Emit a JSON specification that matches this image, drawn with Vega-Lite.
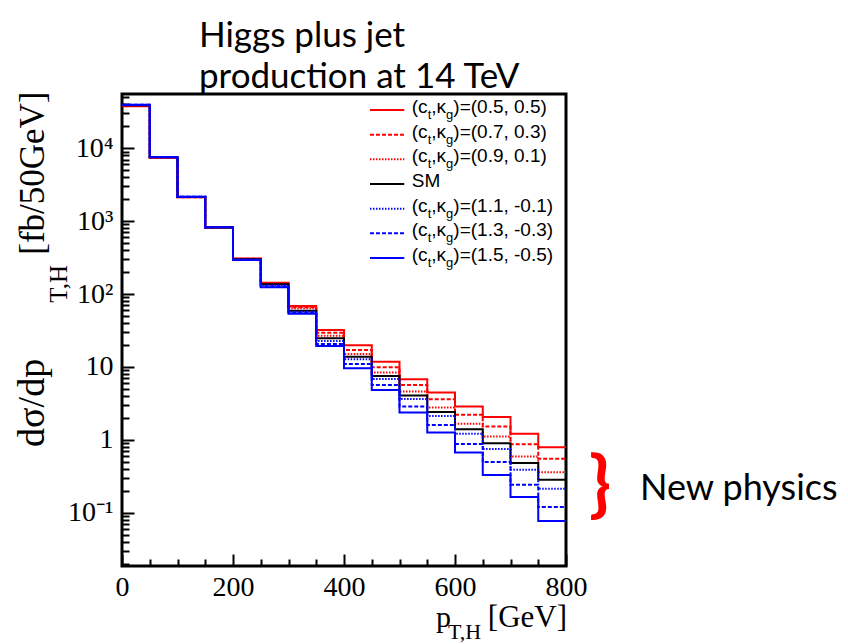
{
  "$schema": "https://vega.github.io/schema/vega-lite/v6.json",
  "width": 444,
  "height": 472,
  "autosize": {"type": "none"},
  "padding": {"left": 122, "top": 94, "right": 282, "bottom": 78},
  "background": "white",
  "config": {"view": {"fill": null, "stroke": "black", "strokeWidth": 3}},
  "title": {
    "text": ["Higgs plus jet", "production at 14 TeV"],
    "anchor": "start",
    "frame": "group",
    "align": "left",
    "dx": 77,
    "offset": -4,
    "font": "Lato",
    "fontSize": 35,
    "fontWeight": "normal",
    "color": "black",
    "lineHeight": 41
  },
  "datasets": {
    "hist": [
      {"series": "(0.5, 0.5)", "pt": 0, "xs": 37600}, {"series": "(0.5, 0.5)", "pt": 50, "xs": 7400}, {"series": "(0.5, 0.5)", "pt": 100, "xs": 2120}, {"series": "(0.5, 0.5)", "pt": 150, "xs": 815}, {"series": "(0.5, 0.5)", "pt": 200, "xs": 308}, {"series": "(0.5, 0.5)", "pt": 250, "xs": 142.8}, {"series": "(0.5, 0.5)", "pt": 300, "xs": 68.5}, {"series": "(0.5, 0.5)", "pt": 350, "xs": 32.1}, {"series": "(0.5, 0.5)", "pt": 400, "xs": 19.8}, {"series": "(0.5, 0.5)", "pt": 450, "xs": 11.8}, {"series": "(0.5, 0.5)", "pt": 500, "xs": 6.78}, {"series": "(0.5, 0.5)", "pt": 550, "xs": 4.45}, {"series": "(0.5, 0.5)", "pt": 600, "xs": 2.86}, {"series": "(0.5, 0.5)", "pt": 650, "xs": 2.05}, {"series": "(0.5, 0.5)", "pt": 700, "xs": 1.21}, {"series": "(0.5, 0.5)", "pt": 750, "xs": 0.79}, {"series": "(0.5, 0.5)", "pt": 800, "xs": 0.79},
      {"series": "(0.7, 0.3)", "pt": 0, "xs": 38000}, {"series": "(0.7, 0.3)", "pt": 50, "xs": 7430}, {"series": "(0.7, 0.3)", "pt": 100, "xs": 2130}, {"series": "(0.7, 0.3)", "pt": 150, "xs": 817}, {"series": "(0.7, 0.3)", "pt": 200, "xs": 305}, {"series": "(0.7, 0.3)", "pt": 250, "xs": 140.6}, {"series": "(0.7, 0.3)", "pt": 300, "xs": 65.8}, {"series": "(0.7, 0.3)", "pt": 350, "xs": 29.5}, {"series": "(0.7, 0.3)", "pt": 400, "xs": 17.1}, {"series": "(0.7, 0.3)", "pt": 450, "xs": 9.9}, {"series": "(0.7, 0.3)", "pt": 500, "xs": 5.67}, {"series": "(0.7, 0.3)", "pt": 550, "xs": 3.61}, {"series": "(0.7, 0.3)", "pt": 600, "xs": 2.2}, {"series": "(0.7, 0.3)", "pt": 650, "xs": 1.52}, {"series": "(0.7, 0.3)", "pt": 700, "xs": 0.87}, {"series": "(0.7, 0.3)", "pt": 750, "xs": 0.55}, {"series": "(0.7, 0.3)", "pt": 800, "xs": 0.55},
      {"series": "(0.9, 0.1)", "pt": 0, "xs": 38400}, {"series": "(0.9, 0.1)", "pt": 50, "xs": 7460}, {"series": "(0.9, 0.1)", "pt": 100, "xs": 2140}, {"series": "(0.9, 0.1)", "pt": 150, "xs": 819}, {"series": "(0.9, 0.1)", "pt": 200, "xs": 302}, {"series": "(0.9, 0.1)", "pt": 250, "xs": 138.4}, {"series": "(0.9, 0.1)", "pt": 300, "xs": 63.7}, {"series": "(0.9, 0.1)", "pt": 350, "xs": 26.8}, {"series": "(0.9, 0.1)", "pt": 400, "xs": 15.1}, {"series": "(0.9, 0.1)", "pt": 450, "xs": 8.36}, {"series": "(0.9, 0.1)", "pt": 500, "xs": 4.59}, {"series": "(0.9, 0.1)", "pt": 550, "xs": 2.77}, {"series": "(0.9, 0.1)", "pt": 600, "xs": 1.66}, {"series": "(0.9, 0.1)", "pt": 650, "xs": 1.11}, {"series": "(0.9, 0.1)", "pt": 700, "xs": 0.59}, {"series": "(0.9, 0.1)", "pt": 750, "xs": 0.36}, {"series": "(0.9, 0.1)", "pt": 800, "xs": 0.36},
      {"series": "SM", "pt": 0, "xs": 38800}, {"series": "SM", "pt": 50, "xs": 7500}, {"series": "SM", "pt": 100, "xs": 2150}, {"series": "SM", "pt": 150, "xs": 820}, {"series": "SM", "pt": 200, "xs": 299}, {"series": "SM", "pt": 250, "xs": 135.8}, {"series": "SM", "pt": 300, "xs": 59.0}, {"series": "SM", "pt": 350, "xs": 24.7}, {"series": "SM", "pt": 400, "xs": 13.8}, {"series": "SM", "pt": 450, "xs": 7.53}, {"series": "SM", "pt": 500, "xs": 4.05}, {"series": "SM", "pt": 550, "xs": 2.4}, {"series": "SM", "pt": 600, "xs": 1.4}, {"series": "SM", "pt": 650, "xs": 0.9}, {"series": "SM", "pt": 700, "xs": 0.48}, {"series": "SM", "pt": 750, "xs": 0.283}, {"series": "SM", "pt": 800, "xs": 0.283},
      {"series": "(1.1, -0.1)", "pt": 0, "xs": 39100}, {"series": "(1.1, -0.1)", "pt": 50, "xs": 7520}, {"series": "(1.1, -0.1)", "pt": 100, "xs": 2155}, {"series": "(1.1, -0.1)", "pt": 150, "xs": 821}, {"series": "(1.1, -0.1)", "pt": 200, "xs": 297}, {"series": "(1.1, -0.1)", "pt": 250, "xs": 131.6}, {"series": "(1.1, -0.1)", "pt": 300, "xs": 57.3}, {"series": "(1.1, -0.1)", "pt": 350, "xs": 22.7}, {"series": "(1.1, -0.1)", "pt": 400, "xs": 12.7}, {"series": "(1.1, -0.1)", "pt": 450, "xs": 6.85}, {"series": "(1.1, -0.1)", "pt": 500, "xs": 3.64}, {"series": "(1.1, -0.1)", "pt": 550, "xs": 2.13}, {"series": "(1.1, -0.1)", "pt": 600, "xs": 1.21}, {"series": "(1.1, -0.1)", "pt": 650, "xs": 0.75}, {"series": "(1.1, -0.1)", "pt": 700, "xs": 0.39}, {"series": "(1.1, -0.1)", "pt": 750, "xs": 0.213}, {"series": "(1.1, -0.1)", "pt": 800, "xs": 0.213},
      {"series": "(1.3, -0.3)", "pt": 0, "xs": 39400}, {"series": "(1.3, -0.3)", "pt": 50, "xs": 7540}, {"series": "(1.3, -0.3)", "pt": 100, "xs": 2160}, {"series": "(1.3, -0.3)", "pt": 150, "xs": 822}, {"series": "(1.3, -0.3)", "pt": 200, "xs": 295}, {"series": "(1.3, -0.3)", "pt": 250, "xs": 127.4}, {"series": "(1.3, -0.3)", "pt": 300, "xs": 55.5}, {"series": "(1.3, -0.3)", "pt": 350, "xs": 20.7}, {"series": "(1.3, -0.3)", "pt": 400, "xs": 11.0}, {"series": "(1.3, -0.3)", "pt": 450, "xs": 5.67}, {"series": "(1.3, -0.3)", "pt": 500, "xs": 2.86}, {"series": "(1.3, -0.3)", "pt": 550, "xs": 1.6}, {"series": "(1.3, -0.3)", "pt": 600, "xs": 0.88}, {"series": "(1.3, -0.3)", "pt": 650, "xs": 0.495}, {"series": "(1.3, -0.3)", "pt": 700, "xs": 0.242}, {"series": "(1.3, -0.3)", "pt": 750, "xs": 0.12}, {"series": "(1.3, -0.3)", "pt": 800, "xs": 0.12},
      {"series": "(1.5, -0.5)", "pt": 0, "xs": 39600}, {"series": "(1.5, -0.5)", "pt": 50, "xs": 7550}, {"series": "(1.5, -0.5)", "pt": 100, "xs": 2165}, {"series": "(1.5, -0.5)", "pt": 150, "xs": 823}, {"series": "(1.5, -0.5)", "pt": 200, "xs": 292}, {"series": "(1.5, -0.5)", "pt": 250, "xs": 123.5}, {"series": "(1.5, -0.5)", "pt": 300, "xs": 53.5}, {"series": "(1.5, -0.5)", "pt": 350, "xs": 19.4}, {"series": "(1.5, -0.5)", "pt": 400, "xs": 9.6}, {"series": "(1.5, -0.5)", "pt": 450, "xs": 4.84}, {"series": "(1.5, -0.5)", "pt": 500, "xs": 2.37}, {"series": "(1.5, -0.5)", "pt": 550, "xs": 1.26}, {"series": "(1.5, -0.5)", "pt": 600, "xs": 0.67}, {"series": "(1.5, -0.5)", "pt": 650, "xs": 0.33}, {"series": "(1.5, -0.5)", "pt": 700, "xs": 0.164}, {"series": "(1.5, -0.5)", "pt": 750, "xs": 0.077}, {"series": "(1.5, -0.5)", "pt": 800, "xs": 0.077}
    ],
    "legend": [
      {"series": "(0.5, 0.5)", "row": 0, "tail": ")=(0.5, 0.5)"},
      {"series": "(0.7, 0.3)", "row": 1, "tail": ")=(0.7, 0.3)"},
      {"series": "(0.9, 0.1)", "row": 2, "tail": ")=(0.9, 0.1)"},
      {"series": "SM", "row": 3, "tail": "SM"},
      {"series": "(1.1, -0.1)", "row": 4, "tail": ")=(1.1, -0.1)"},
      {"series": "(1.3, -0.3)", "row": 5, "tail": ")=(1.3, -0.3)"},
      {"series": "(1.5, -0.5)", "row": 6, "tail": ")=(1.5, -0.5)"}
    ]
  },
  "layer": [
    {
      "data": {"values": [{}]},
      "encoding": {
        "y": {"datum": 1, "type": "quantitative", "scale": {"type": "log", "domain": [0.0186, 55400], "nice": false}, "axis": null}
      },
      "layer": [
        {
          "mark": {"type": "text", "text": "dσ/dp", "angle": 270, "align": "left", "baseline": "alphabetic", "font": "Liberation Serif", "fontSize": 38, "color": "black"},
          "encoding": {"x": {"datum": -140.5, "scale": {"domain": [0, 800], "nice": false, "zero": false}, "axis": null}, "y": {"datum": 0.80}}
        },
        {
          "mark": {"type": "text", "text": "T,H", "angle": 270, "align": "center", "baseline": "alphabetic", "font": "Liberation Serif", "fontSize": 25, "color": "black"},
          "encoding": {"x": {"datum": -99.1, "axis": null}, "y": {"datum": 138}}
        },
        {
          "mark": {"type": "text", "text": "[fb/50GeV]", "angle": 270, "align": "right", "baseline": "alphabetic", "font": "Liberation Serif", "fontSize": 35, "color": "black"},
          "encoding": {"x": {"datum": -140.5, "axis": null}, "y": {"datum": 60000}}
        },
        {
          "mark": {"type": "text", "text": "p", "align": "left", "baseline": "alphabetic", "font": "Liberation Serif", "fontSize": 30, "color": "black"},
          "encoding": {"x": {"datum": 565.8, "axis": null}, "y": {"datum": 0.00274}}
        },
        {
          "mark": {"type": "text", "text": "T,H", "align": "left", "baseline": "alphabetic", "font": "Liberation Serif", "fontSize": 22, "color": "black"},
          "encoding": {"x": {"datum": 587.4, "axis": null}, "y": {"datum": 0.00183}}
        },
        {
          "mark": {"type": "text", "text": "[GeV]", "align": "right", "baseline": "alphabetic", "font": "Liberation Serif", "fontSize": 31, "color": "black"},
          "encoding": {"x": {"datum": 801.8, "axis": null}, "y": {"datum": 0.00274}}
        },
        {
          "mark": {"type": "text", "text": "New physics", "align": "left", "baseline": "alphabetic", "font": "Lato", "fontSize": 36, "color": "black"},
          "encoding": {"x": {"datum": 933.3, "axis": null}, "y": {"datum": 0.1506}}
        },
        {
          "mark": {"type": "text", "text": "}", "align": "center", "baseline": "middle", "font": "Lato", "fontSize": 72, "fontWeight": "bold", "color": "#ff0000"},
          "encoding": {"x": {"datum": 861.3, "axis": null}, "y": {"datum": 0.227}}
        }
      ]
    },
    {
      "data": {"name": "legend"},
      "encoding": {
        "y": {"field": "row", "type": "quantitative", "scale": {"domain": [-0.6486, 18.485], "reverse": true, "nice": false, "zero": false}, "axis": null}
      },
      "layer": [
        {
          "mark": {"type": "rule", "strokeWidth": 2},
          "encoding": {
            "x": {"datum": 446.8, "scale": {"domain": [0, 800], "nice": false, "zero": false}, "axis": null},
            "x2": {"datum": 508.6},
            "color": {"field": "series", "type": "nominal", "legend": null,
              "scale": {"domain": ["(0.5, 0.5)", "(0.7, 0.3)", "(0.9, 0.1)", "SM", "(1.1, -0.1)", "(1.3, -0.3)", "(1.5, -0.5)"],
                        "range": ["#ff0000", "#ff0000", "#ff0000", "#000000", "#0000ff", "#0000ff", "#0000ff"]}},
            "strokeDash": {"field": "series", "type": "nominal", "legend": null,
              "scale": {"domain": ["(0.5, 0.5)", "(0.7, 0.3)", "(0.9, 0.1)", "SM", "(1.1, -0.1)", "(1.3, -0.3)", "(1.5, -0.5)"],
                        "range": [[1, 0], [4, 2], [1.5, 1.5], [1, 0], [1.5, 1.5], [4, 2], [1, 0]]}}
          }
        },
        {
          "transform": [{"filter": "datum.series != 'SM'"}],
          "mark": {"type": "text", "text": "(c", "align": "left", "baseline": "alphabetic", "dy": 3, "font": "Liberation Sans", "fontSize": 19, "color": "black"},
          "encoding": {"x": {"datum": 522, "axis": null}}
        },
        {
          "transform": [{"filter": "datum.series != 'SM'"}],
          "mark": {"type": "text", "text": "t", "align": "left", "baseline": "alphabetic", "dx": 16, "dy": 9, "font": "Liberation Sans", "fontSize": 13, "color": "black"},
          "encoding": {"x": {"datum": 522, "axis": null}}
        },
        {
          "transform": [{"filter": "datum.series != 'SM'"}],
          "mark": {"type": "text", "text": ",κ", "align": "left", "baseline": "alphabetic", "dx": 19.6, "dy": 3, "font": "Liberation Sans", "fontSize": 19, "color": "black"},
          "encoding": {"x": {"datum": 522, "axis": null}}
        },
        {
          "transform": [{"filter": "datum.series != 'SM'"}],
          "mark": {"type": "text", "text": "g", "align": "left", "baseline": "alphabetic", "dx": 34.4, "dy": 9, "font": "Liberation Sans", "fontSize": 13, "color": "black"},
          "encoding": {"x": {"datum": 522, "axis": null}}
        },
        {
          "transform": [{"filter": "datum.series != 'SM'"}],
          "mark": {"type": "text", "align": "left", "baseline": "alphabetic", "dx": 41.6, "dy": 3, "font": "Liberation Sans", "fontSize": 19, "color": "black"},
          "encoding": {"x": {"datum": 522, "axis": null}, "text": {"field": "tail"}}
        },
        {
          "transform": [{"filter": "datum.series == 'SM'"}],
          "mark": {"type": "text", "align": "left", "baseline": "alphabetic", "dy": 3, "font": "Liberation Sans", "fontSize": 19, "color": "black"},
          "encoding": {"x": {"datum": 522, "axis": null}, "text": {"field": "tail"}}
        }
      ]
    },
    {
      "data": {"values": [{}]},
      "mark": {"type": "text", "text": ""},
      "encoding": {
        "x": {
          "datum": 0, "type": "quantitative",
          "scale": {"domain": [0, 800], "nice": false, "zero": false},
          "axis": {
            "orient": "bottom", "title": null, "domain": false, "grid": false, "labels": false,
            "values": [50, 100, 150, 250, 300, 350, 450, 500, 550, 650, 700, 750],
            "tickSize": -7, "tickColor": "#000000", "tickWidth": 2
          }
        },
        "y": {
          "datum": 1, "type": "quantitative",
          "scale": {"type": "log", "domain": [0.0186, 55400], "nice": false},
          "axis": {
            "orient": "left", "title": null, "domain": false, "grid": false, "labels": false, "offset": -7,
            "values": [0.02, 0.03, 0.04, 0.05, 0.06, 0.07, 0.08, 0.09, 0.2, 0.3, 0.4, 0.5, 0.6, 0.7, 0.8, 0.9, 2, 3, 4, 5, 6, 7, 8, 9, 20, 30, 40, 50, 60, 70, 80, 90, 200, 300, 400, 500, 600, 700, 800, 900, 2000, 3000, 4000, 5000, 6000, 7000, 8000, 9000, 20000, 30000, 40000, 50000],
            "tickSize": 7, "tickColor": "#000000", "tickWidth": 2
          }
        }
      }
    },
    {
      "data": {"name": "hist"},
      "mark": {"type": "line", "interpolate": "step-after", "strokeWidth": 2, "clip": true},
      "encoding": {
        "x": {
          "field": "pt", "type": "quantitative",
          "scale": {"domain": [0, 800], "nice": false, "zero": false},
          "axis": {
            "orient": "bottom", "title": null, "domain": false, "grid": false, "offset": -12,
            "values": [0, 200, 400, 600, 800],
            "tickSize": 12, "tickColor": "#000000", "tickWidth": 2,
            "labelFont": "Liberation Serif", "labelFontSize": 28, "labelColor": "black",
            "labelPadding": 7, "labelFlush": false, "labelOverlap": false
          }
        },
        "y": {
          "field": "xs", "type": "quantitative",
          "scale": {"type": "log", "domain": [0.0186, 55400], "nice": false},
          "axis": {
            "orient": "left", "title": null, "domain": false, "grid": false,
            "values": [0.1, 1, 10, 100, 1000, 10000],
            "labelExpr": "datum.value == 10000 ? '10⁴' : datum.value == 1000 ? '10³' : datum.value == 100 ? '10²' : datum.value == 10 ? '10' : datum.value == 1 ? '1' : '10⁻¹'",
            "tickSize": -12, "tickColor": "#000000", "tickWidth": 2,
            "labelFont": "Liberation Serif", "labelFontSize": 28, "labelColor": "black",
            "labelPadding": 21, "labelOverlap": false, "labelFlush": false
          }
        },
        "color": {
          "field": "series", "type": "nominal", "legend": null,
          "scale": {
            "domain": ["(0.5, 0.5)", "(0.7, 0.3)", "(0.9, 0.1)", "SM", "(1.1, -0.1)", "(1.3, -0.3)", "(1.5, -0.5)"],
            "range": ["#ff0000", "#ff0000", "#ff0000", "#000000", "#0000ff", "#0000ff", "#0000ff"]
          }
        },
        "strokeDash": {
          "field": "series", "type": "nominal", "legend": null,
          "scale": {
            "domain": ["(0.5, 0.5)", "(0.7, 0.3)", "(0.9, 0.1)", "SM", "(1.1, -0.1)", "(1.3, -0.3)", "(1.5, -0.5)"],
            "range": [[1, 0], [4, 2], [1.5, 1.5], [1, 0], [1.5, 1.5], [4, 2], [1, 0]]
          }
        }
      }
    }
  ],
  "resolve": {"scale": {"y": "independent", "x": "independent"}}
}
